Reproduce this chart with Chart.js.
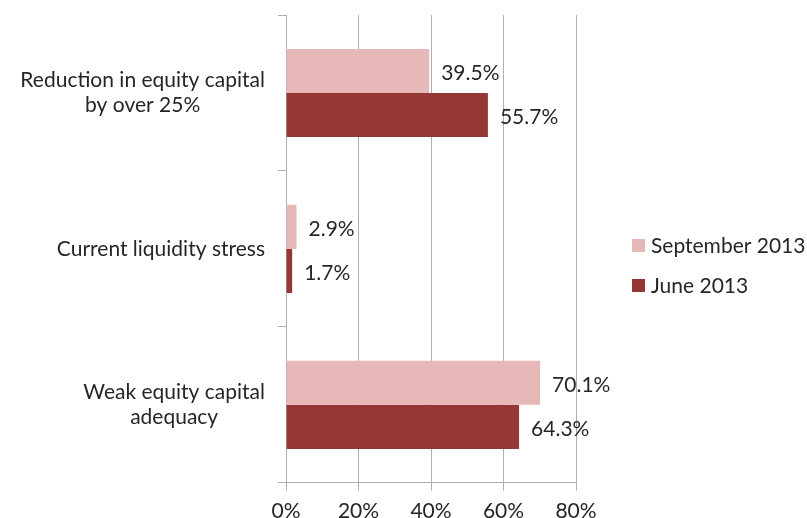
<!DOCTYPE html>
<html>
<head>
<meta charset="utf-8">
<script src="https://cdn.jsdelivr.net/npm/chart.js@4.4.1/dist/chart.umd.min.js"></script>
<style>
  html, body { margin: 0; padding: 0; background: #fff; overflow: hidden; }
  #wrap { position: relative; width: 807px; height: 542px; }
</style>
</head>
<body>
<div id="wrap"><canvas id="riskChart"></canvas></div>
<script>
// chart data
const categories = [
  ["Reduction in equity capital", "by over 25%"],
  ["Current liquidity stress"],
  ["Weak equity capital", "adequacy"]
];
const seriesNames = ["September 2013", "June 2013"];
const septValues = [39.5, 2.9, 70.1];
const juneValues = [55.7, 1.7, 64.3];
const xTickMin = 0;
const xTickMax = 80;
const xTickStep = 20;

const FONT = "Lato, 'Open Sans', sans-serif";
const FONT_SIZE = 21;
const TEXT_COLOR = "#262626";
const GRID_COLOR = "#B0B0B0";

// category labels: block right aligned, lines centered inside the block
const categoryLabels = {
  id: "categoryLabels",
  afterDraw(chart) {
    const ctx = chart.ctx;
    const yScale = chart.scales.y;
    const rightEdge = 265;
    const lineH = 25;
    ctx.save();
    ctx.font = FONT_SIZE + "px " + FONT;
    ctx.fillStyle = TEXT_COLOR;
    ctx.textAlign = "center";
    ctx.textBaseline = "middle";
    chart.data.labels.forEach(function (lines, i) {
      const maxW = Math.max(...lines.map((l) => ctx.measureText(l).width));
      const cx = rightEdge - maxW / 2;
      const cy = yScale.getPixelForValue(i);
      lines.forEach(function (line, j) {
        ctx.fillText(line, cx, cy + (j - (lines.length - 1) / 2) * lineH);
      });
    });
    ctx.restore();
  }
};

// value labels at bar ends
const barValues = {
  id: "barValues",
  afterDatasetsDraw(chart) {
    const ctx = chart.ctx;
    ctx.save();
    ctx.font = FONT_SIZE + "px " + FONT;
    ctx.fillStyle = TEXT_COLOR;
    ctx.textAlign = "left";
    ctx.textBaseline = "middle";
    chart.data.datasets.forEach(function (ds, di) {
      chart.getDatasetMeta(di).data.forEach(function (bar, i) {
        ctx.fillText(ds.data[i].toFixed(1) + "%", bar.x + 12, bar.y + 2);
      });
    });
    ctx.restore();
  }
};

// legend on the right
const sideLegend = {
  id: "sideLegend",
  afterDraw(chart) {
    const ctx = chart.ctx;
    const x = 632;
    const yStart = 245;
    const gap = 40;
    ctx.save();
    ctx.font = FONT_SIZE + "px " + FONT;
    ctx.textAlign = "left";
    ctx.textBaseline = "middle";
    chart.data.datasets.forEach(function (ds, i) {
      const y = yStart + i * gap;
      ctx.fillStyle = ds.backgroundColor;
      ctx.fillRect(x, y - 6, 13, 13);
      ctx.fillStyle = TEXT_COLOR;
      ctx.fillText(ds.label, x + 19, y + 1);
    });
    ctx.restore();
  }
};

const ctx = document.getElementById("riskChart").getContext("2d");
new Chart(ctx, {
  type: "bar",
  data: {
    labels: categories,
    datasets: [
      {
        label: seriesNames[0],
        data: septValues,
        backgroundColor: "#E6B9B8",
        categoryPercentage: 0.565,
        barPercentage: 1.0
      },
      {
        label: seriesNames[1],
        data: juneValues,
        backgroundColor: "#953735",
        categoryPercentage: 0.565,
        barPercentage: 1.0
      }
    ]
  },
  options: {
    indexAxis: "y",
    responsive: true,
    maintainAspectRatio: false,
    animation: false,
    layout: {
      padding: { top: 15, right: 231, bottom: 10, left: 0 }
    },
    scales: {
      x: {
        min: xTickMin,
        max: xTickMax,
        ticks: {
          stepSize: xTickStep,
          color: TEXT_COLOR,
          padding: 8,
          font: { family: FONT, size: FONT_SIZE },
          callback: (v) => v + "%"
        },
        grid: {
          color: GRID_COLOR,
          lineWidth: 1,
          tickLength: 8
        },
        border: { color: GRID_COLOR }
      },
      y: {
        ticks: { display: false },
        grid: {
          drawOnChartArea: false,
          color: GRID_COLOR,
          tickLength: 8,
          offset: true
        },
        border: { color: GRID_COLOR },
        afterFit(scale) {
          scale.width = 286;
        }
      }
    },
    plugins: {
      legend: { display: false },
      tooltip: { enabled: false }
    }
  },
  plugins: [categoryLabels, barValues, sideLegend]
});
</script>
</body>
</html>
